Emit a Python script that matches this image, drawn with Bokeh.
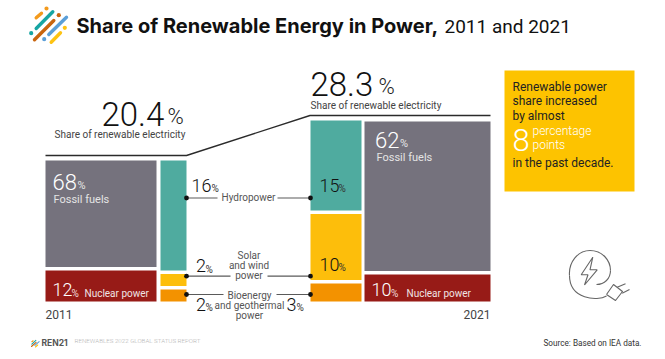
from bokeh.plotting import figure
from bokeh.models import Range1d
from bokeh.core.properties import value
from bokeh.embed import file_html
from bokeh.resources import INLINE
import numpy as np

# ---- data: shares (labels) and the segment heights
shares_2011_other = [68, 12]
shares_2011_renew = [16, 2, 2]
shares_2021_other = [62, 10]
shares_2021_renew = [15, 10, 3]
total_2011 = "20.4"
total_2021 = "28.3"
drawn_2011_other = [106.5, 31]
drawn_2011_renew = [110, 12, 12]
drawn_2021_other = [149.5, 27]
drawn_2021_renew = [90, 66, 18]
years = ["2011", "2021"]

GRAY, RED, TEAL, YEL, ORA = "#75727d", "#971b17", "#4fab9f", "#fdbe0b", "#f39200"
INK = "#1a1a1a"
SANS, LIGHT = "Roboto", "Roboto Light"

p = figure(width=665, height=359, output_backend="svg", toolbar_location=None,
           x_range=Range1d(0, 665), y_range=Range1d(359, 0),
           min_border=0, outline_line_color=None, background_fill_color="white")
p.axis.visible = False
p.grid.visible = False
p.xaxis.visible = False
p.yaxis.visible = False


def T(x, y, s, size, color=INK, font=SANS, align="left", style="normal"):
    y = y - (3.5 + 0.2 * size if font == LIGHT else 0.33 * size)
    p.text([x], [y], text=[s], text_font=value(font), text_font_size=f"{size}px",
           text_color=color, text_align=align, text_baseline="alphabetic",
           text_font_style=style)


def stack(x0, x1, heights, colors, base=301, gap=3.5):
    """stack segments upward from the base, the last height being the lowest"""
    bottom = base
    for h, c in zip(heights[::-1], colors[::-1]):
        p.quad(left=[x0], right=[x1], bottom=[bottom], top=[bottom - h], fill_color=c, line_color=None)
        bottom = bottom - h - gap


stack(45, 156, drawn_2011_other, [GRAY, RED])
stack(160, 186, drawn_2011_renew, [TEAL, YEL, ORA])
stack(310, 361, drawn_2021_renew, [TEAL, YEL, ORA])
stack(364, 490, drawn_2021_other, [GRAY, RED])

# header rule
p.line([45, 186, 309.5, 490], [155, 155, 115, 115], line_color="#2b2b2b", line_width=1.4)

# logo
logo_segs = [(35.7, 17.3, 41, 12.7, "#f39a1d"), (35.7, 28, 52.3, 11.3, "#17a5a3"),
             (34, 39.3, 53.3, 20, "#c9650f"), (48.3, 34, 66, 16.7, "#5b9fd8"),
             (50.7, 41.7, 60, 32.3, "#fdc313")]
logo_dots = [(46, 8, "#f39a1d"), (58.3, 14.7, "#c9650f"), (30.7, 32.7, "#17a5a3"),
             (43.7, 38.7, "#5b9fd8"), (64.3, 27.3, "#fdc313")]
for x0, y0, x1, y1, c in logo_segs:
    p.segment([x0], [y0], [x1], [y1], line_color=c, line_width=3.4, line_cap="round")
for x, y, c in logo_dots:
    p.scatter([x], [y], size=4.2, fill_color=c, line_color=None)

# title
T(76, 32, "Share of Renewable Energy in Power,", 20, "#111111", "Inter", style="bold")
T(444, 32, "2011 and 2021", 19, "#111111", SANS)

# totals
T(101, 124, total_2011, 33, "#111111", LIGHT)
T(167, 124, "%", 22, "#222222", LIGHT)
T(54, 137, "Share of renewable electricity", 10, "#444444")
T(310, 94, total_2021, 33, "#111111", LIGHT)
T(378, 94, "%", 22, "#222222", LIGHT)
T(310, 108, "Share of renewable electricity", 10, "#444444")

# inside-block labels
T(52, 189, str(shares_2011_other[0]), 22, "white", LIGHT)
T(77, 189, "%", 11, "#e8e8e8")
T(53, 203, "Fossil fuels", 11, "#e4e4e4")
T(52, 296, str(shares_2011_other[1]), 18, "white", LIGHT)
T(71, 296, "%", 10, "#f0dcdc")
T(84, 296, "Nuclear power", 10, "#f0e4e4")
T(374.5, 147, str(shares_2021_other[0]), 22, "white", LIGHT)
T(399.5, 147, "%", 11, "#e8e8e8")
T(376, 161, "Fossil fuels", 11, "#e4e4e4")
T(371, 296, str(shares_2021_other[1]), 18, "white", LIGHT)
T(390.5, 296, "%", 10, "#f0dcdc")
T(406, 296, "Nuclear power", 10, "#f0e4e4")
T(45, 318, years[0], 12, "#444444")
T(490, 318, years[1], 12, "#444444", align="right")

# connectors
conn_y = [197.5, 275.7, 294]
conn_gap = [(217, 277), (230, 267), (223, 276)]
for y, (a, b) in zip(conn_y, conn_gap):
    p.segment([186, b], [y, y], [a, 310], [y, y], line_color="#5a5a5a", line_width=1.2)
    p.scatter([186, 310], [y, y], size=4.8, fill_color="#111111", line_color=None)

T(248, 200.5, "Hydropower", 10, "#555555", align="center")
for yy, s in zip([258.7, 268.7, 278.7], ["Solar", "and wind", "power"]):
    T(248.5, yy, s, 10, "#555555", align="center")
for yy, s in zip([298.5, 308.5, 318.5], ["Bioenergy", "and geothermal", "power"]):
    T(249, yy, s, 10, "#555555", align="center")

T(191, 191.7, str(shares_2011_renew[0]), 18, "#111111", LIGHT)
T(211, 191.7, "%", 10, "#333333")
T(195.5, 272, str(shares_2011_renew[1]), 18, "#111111", LIGHT)
T(205, 272, "%", 10, "#333333")
T(195.5, 310.7, str(shares_2011_renew[2]), 18, "#111111", LIGHT)
T(205, 310.7, "%", 10, "#333333")
T(319, 191.7, str(shares_2021_renew[0]), 18, "#111111", LIGHT)
T(338, 191.7, "%", 10, "#333333")
T(319, 270.7, str(shares_2021_renew[1]), 18, "#111111", LIGHT)
T(338, 270.7, "%", 10, "#333333")
T(286, 310.7, str(shares_2021_renew[2]), 18, "#111111", LIGHT)
T(296, 310.7, "%", 10, "#333333")

# call-out box
p.quad(left=[504], right=[634], top=[70], bottom=[191], fill_color="#fdc300", line_color=None)
T(512, 90, "Renewable power", 12, "#222222")
T(512, 104.5, "share increased", 12, "#222222")
T(512, 119, "by almost", 12, "#222222")
T(512, 149.5, "8", 31, "white", LIGHT)
T(532, 136, "percentage", 12, "white", LIGHT)
T(532, 150, "points", 12, "white", LIGHT)
T(512, 166, "in the past decade.", 12, "#222222")

# plug icon
ICON = "#666666"
p.bezier(x0=[606, 569, 589.5, 610], y0=[295.5, 275, 250, 270],
         x1=[569, 589.5, 610, 596], y1=[275, 250, 270, 284],
         cx0=[597, 568, 602, 610], cy0=[301, 262, 250, 278],
         cx1=[569, 577, 610, 604], cy1=[299, 250, 260, 284],
         line_color=ICON, line_width=1.1)
p.line([592.3, 580.7, 587.5, 584, 596.7, 589.5, 592.3],
       [256.7, 274.3, 274.3, 284.5, 269.3, 269.3, 256.7], line_color=ICON, line_width=1.1)
p.line([606, 613, 622, 615, 606], [294, 284, 291, 300, 294], line_color=ICON, line_width=1.1, line_join="round")
p.segment([616.7, 621.7], [286.7, 292.7], [625, 629], [283.3, 289], line_color=ICON, line_width=1.1)

# footer
for x0, y0, x1, y1, c in logo_segs:
    f = 0.24
    p.segment([30 + (x0 - 30) * f], [338.5 + y0 * f * 0.9 - 1], [30 + (x1 - 30) * f], [338.5 + y1 * f * 0.9 - 1],
              line_color=c, line_width=1.1, line_cap="round")
T(41, 345.3, "REN21", 8.5, "#555555", "Inter", style="bold")
T(74, 345, "RENEWABLES 2022 GLOBAL STATUS REPORT", 6.2, "#b5b5b5", LIGHT)
T(543, 345, "Source: Based on IEA data.", 8.2, "#333333")

open("out.html", "w").write(file_html(p, INLINE))
